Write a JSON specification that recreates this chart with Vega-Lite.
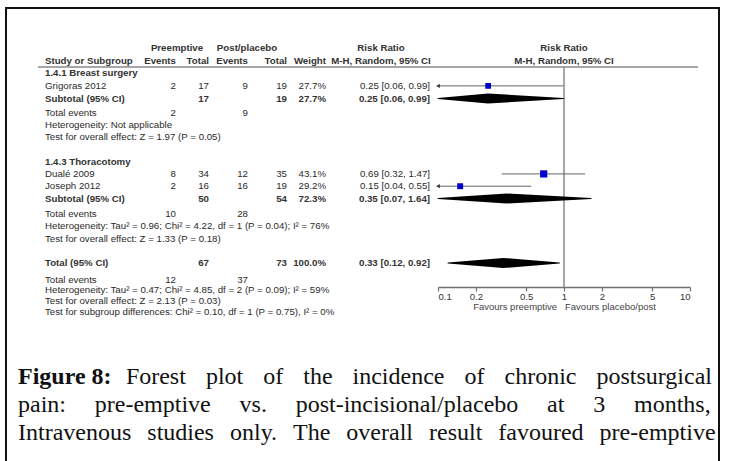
{
  "$schema": "https://vega.github.io/schema/vega-lite/v6.json",
  "width": 732,
  "height": 461,
  "autosize": {"type": "fit", "contains": "padding"},
  "padding": {"left": 6, "top": 8, "right": 13, "bottom": -3},
  "background": "#ffffff",
  "config": {
    "view": {"stroke": "#111111", "strokeWidth": 2},
    "font": "Liberation Sans"
  },
  "datasets": {
    "cells": [
      {"row": 0, "col": 3, "text": "Preemptive", "kind": "header"},
      {"row": 0, "col": 5, "text": "Post/placebo", "kind": "header"},
      {"row": 0, "col": 9, "text": "Risk Ratio", "kind": "header"},
      {"row": 0, "col": 11, "text": "Risk Ratio", "kind": "header"},
      {"row": 1, "col": 1, "text": "Study or Subgroup", "kind": "header"},
      {"row": 1, "col": 2, "text": "Events", "kind": "header"},
      {"row": 1, "col": 4, "text": "Total", "kind": "header"},
      {"row": 1, "col": 6, "text": "Events", "kind": "header"},
      {"row": 1, "col": 7, "text": "Total", "kind": "header"},
      {"row": 1, "col": 8, "text": "Weight", "kind": "header"},
      {"row": 1, "col": 9, "text": "M-H, Random, 95% CI", "kind": "header"},
      {"row": 1, "col": 11, "text": "M-H, Random, 95% CI", "kind": "header"},
      {"row": 2, "col": 1, "text": "1.4.1 Breast surgery", "kind": "group"},
      {"row": 3, "col": 1, "text": "Grigoras 2012", "kind": "study"},
      {"row": 3, "col": 2, "text": "2", "kind": "study"},
      {"row": 3, "col": 4, "text": "17", "kind": "study"},
      {"row": 3, "col": 6, "text": "9", "kind": "study"},
      {"row": 3, "col": 7, "text": "19", "kind": "study"},
      {"row": 3, "col": 8, "text": "27.7%", "kind": "study"},
      {"row": 3, "col": 10, "text": "0.25 [0.06, 0.99]", "kind": "study"},
      {"row": 4, "col": 1, "text": "Subtotal (95% CI)", "kind": "subtotal"},
      {"row": 4, "col": 4, "text": "17", "kind": "subtotal"},
      {"row": 4, "col": 7, "text": "19", "kind": "subtotal"},
      {"row": 4, "col": 8, "text": "27.7%", "kind": "subtotal"},
      {"row": 4, "col": 10, "text": "0.25 [0.06, 0.99]", "kind": "subtotal"},
      {"row": 5, "col": 1, "text": "Total events", "kind": "events"},
      {"row": 5, "col": 2, "text": "2", "kind": "events"},
      {"row": 5, "col": 6, "text": "9", "kind": "events"},
      {"row": 6, "col": 1, "text": "Heterogeneity: Not applicable", "kind": "note"},
      {"row": 7, "col": 1, "text": "Test for overall effect: Z = 1.97 (P = 0.05)", "kind": "note"},
      {"row": 9, "col": 1, "text": "1.4.3 Thoracotomy", "kind": "group"},
      {"row": 10, "col": 1, "text": "Dualé 2009", "kind": "study"},
      {"row": 10, "col": 2, "text": "8", "kind": "study"},
      {"row": 10, "col": 4, "text": "34", "kind": "study"},
      {"row": 10, "col": 6, "text": "12", "kind": "study"},
      {"row": 10, "col": 7, "text": "35", "kind": "study"},
      {"row": 10, "col": 8, "text": "43.1%", "kind": "study"},
      {"row": 10, "col": 10, "text": "0.69 [0.32, 1.47]", "kind": "study"},
      {"row": 11, "col": 1, "text": "Joseph 2012", "kind": "study"},
      {"row": 11, "col": 2, "text": "2", "kind": "study"},
      {"row": 11, "col": 4, "text": "16", "kind": "study"},
      {"row": 11, "col": 6, "text": "16", "kind": "study"},
      {"row": 11, "col": 7, "text": "19", "kind": "study"},
      {"row": 11, "col": 8, "text": "29.2%", "kind": "study"},
      {"row": 11, "col": 10, "text": "0.15 [0.04, 0.55]", "kind": "study"},
      {"row": 12, "col": 1, "text": "Subtotal (95% CI)", "kind": "subtotal"},
      {"row": 12, "col": 4, "text": "50", "kind": "subtotal"},
      {"row": 12, "col": 7, "text": "54", "kind": "subtotal"},
      {"row": 12, "col": 8, "text": "72.3%", "kind": "subtotal"},
      {"row": 12, "col": 10, "text": "0.35 [0.07, 1.64]", "kind": "subtotal"},
      {"row": 13, "col": 1, "text": "Total events", "kind": "events"},
      {"row": 13, "col": 2, "text": "10", "kind": "events"},
      {"row": 13, "col": 6, "text": "28", "kind": "events"},
      {"row": 14, "col": 1, "text": "Heterogeneity: Tau² = 0.96; Chi² = 4.22, df = 1 (P = 0.04); I² = 76%", "kind": "note"},
      {"row": 15, "col": 1, "text": "Test for overall effect: Z = 1.33 (P = 0.18)", "kind": "note"},
      {"row": 17, "col": 1, "text": "Total (95% CI)", "kind": "total"},
      {"row": 17, "col": 4, "text": "67", "kind": "total"},
      {"row": 17, "col": 7, "text": "73", "kind": "total"},
      {"row": 17, "col": 8, "text": "100.0%", "kind": "total"},
      {"row": 17, "col": 10, "text": "0.33 [0.12, 0.92]", "kind": "total"},
      {"row": 18, "col": 1, "text": "Total events", "kind": "events"},
      {"row": 18, "col": 2, "text": "12", "kind": "events"},
      {"row": 18, "col": 6, "text": "37", "kind": "events"},
      {"row": 19, "col": 1, "text": "Heterogeneity: Tau² = 0.47; Chi² = 4.85, df = 2 (P = 0.09); I² = 59%", "kind": "note"},
      {"row": 20, "col": 1, "text": "Test for overall effect: Z = 2.13 (P = 0.03)", "kind": "note"},
      {"row": 21, "col": 1, "text": "Test for subgroup differences: Chi² = 0.10, df = 1 (P = 0.75), I² = 0%", "kind": "note"}
    ],
    "studies": [
      {"row": 3, "name": "Grigoras 2012", "kind": "study", "rr": 0.25, "lo": 0.06, "hi": 0.99, "weight": 27.7},
      {"row": 4, "name": "Subtotal (95% CI)", "kind": "subtotal", "rr": 0.25, "lo": 0.06, "hi": 0.99, "weight": 27.7},
      {"row": 10, "name": "Dualé 2009", "kind": "study", "rr": 0.69, "lo": 0.32, "hi": 1.47, "weight": 43.1},
      {"row": 11, "name": "Joseph 2012", "kind": "study", "rr": 0.15, "lo": 0.04, "hi": 0.55, "weight": 29.2},
      {"row": 12, "name": "Subtotal (95% CI)", "kind": "subtotal", "rr": 0.35, "lo": 0.07, "hi": 1.64, "weight": 72.3},
      {"row": 17, "name": "Total (95% CI)", "kind": "total", "rr": 0.33, "lo": 0.12, "hi": 0.92, "weight": 100}
    ],
    "nullEffect": [
      {"rr": 1}
    ],
    "caption": [
      {"line": 1, "part": "label", "text": "Figure 8:"},
      {"line": 1, "part": "lead", "text": "Forest\u2002\u2004plot\u2002\u2004of\u2002\u2004the\u2002\u2004incidence\u2002\u2004of\u2002\u2004chronic\u2002\u2004postsurgical"},
      {"line": 2, "part": "body", "text": "pain:\u2003\u2009pre-emptive\u2003\u2009vs.\u2003\u2009post-incisional/placebo\u2003\u2009at\u2003\u20093\u2003\u2009months,"},
      {"line": 3, "part": "body", "text": "Intravenous\u2002\u2006studies\u2002\u2006only.\u2002\u2006The\u2002\u2006overall\u2002\u2006result\u2002\u2006favoured\u2002\u2006pre-emptive"}
    ]
  },
  "layer": [
    {
      "data": {"name": "nullEffect"},
      "mark": {"type": "rule", "color": "#8a8a8a", "strokeWidth": 1.5},
      "encoding": {
        "x": {"field": "rr", "type": "quantitative",
              "scale": {"type": "log", "domain": [0.1, 10], "range": [432, 684], "clamp": true, "nice": false},
              "axis": {"values": [0.1, 0.2, 0.5, 1, 2, 5, 10], "format": "~g", "grid": false,
                       "title": "Favours preemptive\u00a0\u00a0\u00a0Favours placebo/post",
                       "offset": -177, "domainColor": "#707070", "domainWidth": 1.5,
                       "tickColor": "#707070", "tickWidth": 1.2, "tickSize": 4,
                       "labelFont": "Liberation Sans", "labelFontSize": 9.5, "labelColor": "#333333", "labelPadding": 0,
                       "titleFont": "Liberation Sans", "titleFontSize": 9.5, "titleFontWeight": "normal", "titleColor": "#444444", "titlePadding": 1}},
        "y": {"datum": 1.5, "type": "quantitative", "axis": null,
              "scale": {"domain": [0, 4, 5, 12, 13, 17, 18, 21], "range": [40, 90.5, 104.5, 190.5, 206, 255, 271.5, 304], "nice": false, "zero": false}},
        "y2": {"datum": 18.7}
      }
    },
    {
      "data": {"name": "cells"},
      "transform": [{"filter": "datum.col == 1 && indexof(['study','events','note'], datum.kind) >= 0"}],
      "mark": {"type": "text", "align": "left", "baseline": "middle", "fontSize": 9.7, "color": "#2a2a2a"},
      "encoding": {
        "x": {"field": "col", "type": "quantitative", "axis": null,
              "scale": {"domain": [0, 1, 2, 3, 4, 5, 6, 7, 8, 9, 10, 11, 12], "range": [32, 39, 170, 171, 203, 241, 242, 281, 320, 375, 424, 558, 692], "nice": false, "zero": false}},
        "y": {"field": "row", "type": "quantitative", "axis": null,
              "scale": {"domain": [0, 4, 5, 12, 13, 17, 18, 21], "range": [40, 90.5, 104.5, 190.5, 206, 255, 271.5, 304], "nice": false, "zero": false}},
        "text": {"field": "text"}
      }
    },
    {
      "data": {"name": "cells"},
      "transform": [{"filter": "datum.col == 1 && indexof(['header','group','subtotal','total'], datum.kind) >= 0"}],
      "mark": {"type": "text", "align": "left", "baseline": "middle", "fontSize": 9.7, "fontWeight": "bold", "color": "#333333"},
      "encoding": {
        "x": {"field": "col", "type": "quantitative", "axis": null,
              "scale": {"domain": [0, 1, 2, 3, 4, 5, 6, 7, 8, 9, 10, 11, 12], "range": [32, 39, 170, 171, 203, 241, 242, 281, 320, 375, 424, 558, 692], "nice": false, "zero": false}},
        "y": {"field": "row", "type": "quantitative", "axis": null,
              "scale": {"domain": [0, 4, 5, 12, 13, 17, 18, 21], "range": [40, 90.5, 104.5, 190.5, 206, 255, 271.5, 304], "nice": false, "zero": false}},
        "text": {"field": "text"}
      }
    },
    {
      "data": {"name": "cells"},
      "transform": [{"filter": "indexof([2,4,6,7,8,10], datum.col) >= 0 && indexof(['study','events'], datum.kind) >= 0"}],
      "mark": {"type": "text", "align": "right", "baseline": "middle", "fontSize": 9.7, "color": "#2a2a2a"},
      "encoding": {
        "x": {"field": "col", "type": "quantitative", "axis": null,
              "scale": {"domain": [0, 1, 2, 3, 4, 5, 6, 7, 8, 9, 10, 11, 12], "range": [32, 39, 170, 171, 203, 241, 242, 281, 320, 375, 424, 558, 692], "nice": false, "zero": false}},
        "y": {"field": "row", "type": "quantitative", "axis": null,
              "scale": {"domain": [0, 4, 5, 12, 13, 17, 18, 21], "range": [40, 90.5, 104.5, 190.5, 206, 255, 271.5, 304], "nice": false, "zero": false}},
        "text": {"field": "text"}
      }
    },
    {
      "data": {"name": "cells"},
      "transform": [{"filter": "indexof([2,4,6,7,8,10], datum.col) >= 0 && indexof(['header','subtotal','total'], datum.kind) >= 0"}],
      "mark": {"type": "text", "align": "right", "baseline": "middle", "fontSize": 9.7, "fontWeight": "bold", "color": "#333333"},
      "encoding": {
        "x": {"field": "col", "type": "quantitative", "axis": null,
              "scale": {"domain": [0, 1, 2, 3, 4, 5, 6, 7, 8, 9, 10, 11, 12], "range": [32, 39, 170, 171, 203, 241, 242, 281, 320, 375, 424, 558, 692], "nice": false, "zero": false}},
        "y": {"field": "row", "type": "quantitative", "axis": null,
              "scale": {"domain": [0, 4, 5, 12, 13, 17, 18, 21], "range": [40, 90.5, 104.5, 190.5, 206, 255, 271.5, 304], "nice": false, "zero": false}},
        "text": {"field": "text"}
      }
    },
    {
      "data": {"name": "cells"},
      "transform": [{"filter": "indexof([3,5,9,11], datum.col) >= 0"}],
      "mark": {"type": "text", "align": "center", "baseline": "middle", "fontSize": 9.7, "fontWeight": "bold", "color": "#333333"},
      "encoding": {
        "x": {"field": "col", "type": "quantitative", "axis": null,
              "scale": {"domain": [0, 1, 2, 3, 4, 5, 6, 7, 8, 9, 10, 11, 12], "range": [32, 39, 170, 171, 203, 241, 242, 281, 320, 375, 424, 558, 692], "nice": false, "zero": false}},
        "y": {"field": "row", "type": "quantitative", "axis": null,
              "scale": {"domain": [0, 4, 5, 12, 13, 17, 18, 21], "range": [40, 90.5, 104.5, 190.5, 206, 255, 271.5, 304], "nice": false, "zero": false}},
        "text": {"field": "text"}
      }
    },
    {
      "data": {"values": [{"line": "header rule"}]},
      "mark": {"type": "rule", "color": "#8a8a8a", "strokeWidth": 1.5},
      "encoding": {
        "x": {"datum": 0, "type": "quantitative", "axis": null,
              "scale": {"domain": [0, 1, 2, 3, 4, 5, 6, 7, 8, 9, 10, 11, 12], "range": [32, 39, 170, 171, 203, 241, 242, 281, 320, 375, 424, 558, 692], "nice": false, "zero": false}},
        "x2": {"datum": 12},
        "y": {"datum": 1.5, "type": "quantitative", "axis": null,
              "scale": {"domain": [0, 4, 5, 12, 13, 17, 18, 21], "range": [40, 90.5, 104.5, 190.5, 206, 255, 271.5, 304], "nice": false, "zero": false}}
      }
    },
    {
      "data": {"name": "studies"},
      "transform": [{"filter": "datum.kind == 'study'"}],
      "mark": {"type": "rule", "color": "#666666", "strokeWidth": 1},
      "encoding": {
        "x": {"field": "lo", "type": "quantitative", "axis": null,
              "scale": {"type": "log", "domain": [0.1, 10], "range": [432, 684], "clamp": true, "nice": false}},
        "x2": {"field": "hi"},
        "y": {"field": "row", "type": "quantitative", "axis": null,
              "scale": {"domain": [0, 4, 5, 12, 13, 17, 18, 21], "range": [40, 90.5, 104.5, 190.5, 206, 255, 271.5, 304], "nice": false, "zero": false}}
      }
    },
    {
      "data": {"name": "studies"},
      "transform": [{"filter": "datum.kind == 'study' && datum.lo < 0.1"}],
      "mark": {"type": "point", "shape": "triangle-left", "filled": true, "color": "#333333", "size": 18, "opacity": 1},
      "encoding": {
        "x": {"field": "lo", "type": "quantitative", "axis": null,
              "scale": {"type": "log", "domain": [0.1, 10], "range": [432, 684], "clamp": true, "nice": false}},
        "y": {"field": "row", "type": "quantitative", "axis": null,
              "scale": {"domain": [0, 4, 5, 12, 13, 17, 18, 21], "range": [40, 90.5, 104.5, 190.5, 206, 255, 271.5, 304], "nice": false, "zero": false}}
      }
    },
    {
      "data": {"name": "studies"},
      "transform": [{"filter": "datum.kind == 'study'"}],
      "mark": {"type": "point", "shape": "square", "filled": true, "color": "#0000cc", "opacity": 1},
      "encoding": {
        "x": {"field": "rr", "type": "quantitative", "axis": null,
              "scale": {"type": "log", "domain": [0.1, 10], "range": [432, 684], "clamp": true, "nice": false}},
        "y": {"field": "row", "type": "quantitative", "axis": null,
              "scale": {"domain": [0, 4, 5, 12, 13, 17, 18, 21], "range": [40, 90.5, 104.5, 190.5, 206, 255, 271.5, 304], "nice": false, "zero": false}},
        "size": {"field": "weight", "type": "quantitative", "scale": {"domain": [0, 50], "range": [0, 60]}, "legend": null}
      }
    },
    {
      "data": {"name": "studies"},
      "transform": [{"filter": "datum.kind != 'study'"}, {"fold": ["lo", "rr", "hi"], "as": ["part", "v"]}],
      "mark": {"type": "trail", "color": "#000000"},
      "encoding": {
        "x": {"field": "v", "type": "quantitative", "axis": null,
              "scale": {"type": "log", "domain": [0.1, 10], "range": [432, 684], "clamp": true, "nice": false}},
        "y": {"field": "row", "type": "quantitative", "axis": null,
              "scale": {"domain": [0, 4, 5, 12, 13, 17, 18, 21], "range": [40, 90.5, 104.5, 190.5, 206, 255, 271.5, 304], "nice": false, "zero": false}},
        "detail": {"field": "row", "type": "nominal"},
        "order": {"field": "v", "type": "quantitative"},
        "size": {"condition": {"test": "datum.part == 'rr'", "value": 10}, "value": 0}
      }
    },
    {
      "data": {"name": "caption"},
      "transform": [{"filter": "datum.part == 'label'"}],
      "mark": {"type": "text", "align": "left", "baseline": "middle", "font": "Liberation Serif", "fontSize": 24, "fontWeight": "bold", "color": "#111111"},
      "encoding": {
        "x": {"datum": "start", "type": "nominal", "axis": null,
              "scale": {"type": "point", "domain": ["start", "end"], "range": [12, 706], "padding": 0}},
        "y": {"field": "line", "type": "quantitative", "axis": null,
              "scale": {"domain": [1, 3], "range": [369, 425], "nice": false, "zero": false}},
        "text": {"field": "text"}
      }
    },
    {
      "data": {"name": "caption"},
      "transform": [{"filter": "datum.part == 'lead'"}],
      "mark": {"type": "text", "align": "right", "baseline": "middle", "font": "Liberation Serif", "fontSize": 24, "color": "#111111"},
      "encoding": {
        "x": {"datum": "end", "type": "nominal", "axis": null,
              "scale": {"type": "point", "domain": ["start", "end"], "range": [12, 706], "padding": 0}},
        "y": {"field": "line", "type": "quantitative", "axis": null,
              "scale": {"domain": [1, 3], "range": [369, 425], "nice": false, "zero": false}},
        "text": {"field": "text"}
      }
    },
    {
      "data": {"name": "caption"},
      "transform": [{"filter": "datum.part == 'body'"}],
      "mark": {"type": "text", "align": "left", "baseline": "middle", "font": "Liberation Serif", "fontSize": 24, "color": "#111111"},
      "encoding": {
        "x": {"datum": "start", "type": "nominal", "axis": null,
              "scale": {"type": "point", "domain": ["start", "end"], "range": [12, 706], "padding": 0}},
        "y": {"field": "line", "type": "quantitative", "axis": null,
              "scale": {"domain": [1, 3], "range": [369, 425], "nice": false, "zero": false}},
        "text": {"field": "text"}
      }
    }
  ],
  "resolve": {"scale": {"x": "independent", "y": "independent"}}
}
